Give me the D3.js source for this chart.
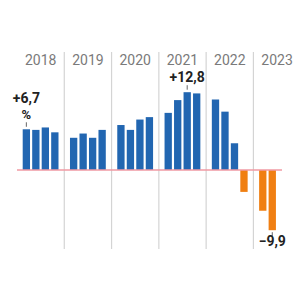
<!DOCTYPE html>
<html>
<head>
<meta charset="utf-8">
<script src="https://cdn.jsdelivr.net/npm/d3@7"></script>
<style>
  html, body { margin:0; padding:0; background:#fff; }
  svg { display:block; }
  text { font-family: "Liberation Sans Narrow", "Roboto", sans-serif; }
</style>
</head>
<body>
<div id="chart"></div>
<script>
var years = ["2018","2019","2020","2021","2022","2023"];
var quarters = ["Q1","Q2","Q3","Q4"];
var values = [
  [6.7, 6.6, 7.0, 6.2],
  [5.3, 6.0, 5.3, 6.6],
  [7.4, 6.6, 8.3, 8.7],
  [9.4, 11.5, 12.8, 12.6],
  [11.6, 9.6, 4.4, -3.6],
  [-6.7, -9.9]
];
var callouts = [
  {year:"2018", q:"Q1", text:"+6,7", unit:"%"},
  {year:"2021", q:"Q3", text:"+12,8"},
  {year:"2023", q:"Q2", text:"\u22129,9"}
];

var W = 300, H = 300;
var data = [];
years.forEach(function(y,i){
  values[i].forEach(function(v,j){ data.push({year:y, q:quarters[j], v:v}); });
});

var svg = d3.select("#chart").append("svg").attr("width",W).attr("height",H);

var X = d3.scaleBand().domain(years).range([17, 300.7]);
var Q = d3.scaleBand().domain(quarters).range([5.7, 41.5]).paddingInner(0.23);
var Y = d3.scaleLinear().domain([-9.9, 12.8]).range([230.2, 92.2]);

// year dividers
svg.selectAll(".div").data(years.slice(1)).enter().append("line")
  .attr("x1",function(d){return X(d)}).attr("x2",function(d){return X(d)})
  .attr("y1",52).attr("y2",249)
  .style("stroke","#d4d4d4").style("stroke-width",1.2);

// year labels
svg.selectAll(".yl").data(years).enter().append("text")
  .attr("x",function(d){return X(d)+X.bandwidth()/2})
  .attr("y",65)
  .attr("text-anchor","middle")
  .style("font-size","14px").style("fill","#7a7a7a")
  .text(function(d){return d});

// bars
svg.selectAll(".bar").data(data).enter().append("rect")
  .attr("x",function(d){return X(d.year)+Q(d.q)})
  .attr("width",Q.bandwidth())
  .attr("y",function(d){return Y(Math.max(0,d.v))})
  .attr("height",function(d){return Math.abs(Y(d.v)-Y(0))})
  .style("fill",function(d){return d.v<0 ? "#f07f12" : "#2266b1"});

// zero line
svg.append("line").attr("x1",17).attr("x2",282)
  .attr("y1",Y(0)).attr("y2",Y(0))
  .style("stroke","#f09aa3").style("stroke-width",1.5);

// callouts
callouts.forEach(function(c){
  var d = data.filter(function(e){return e.year==c.year && e.q==c.q})[0];
  var cx = X(c.year)+Q(c.q)+Q.bandwidth()/2;
  var neg = d.v<0;
  var yb = Y(d.v);
  var t0 = neg ? yb+2 : yb-7, t1 = neg ? yb+6.5 : yb-2.5;
  svg.append("line").attr("x1",cx).attr("x2",cx).attr("y1",t0).attr("y2",t1)
    .style("stroke","#666").style("stroke-width",1);
  var g = svg.append("text").attr("text-anchor","middle")
    .style("font-size","14px").style("font-weight","bold").style("fill","#222");
  if (neg) {
    g.attr("x",cx).attr("y",yb+15.5).text(c.text);
  } else if (c.unit) {
    g.attr("x",cx).attr("y",yb-26).text(c.text);
    svg.append("text").attr("x",cx).attr("y",yb-10).attr("text-anchor","middle")
      .style("font-size","13px").style("font-weight","bold").style("fill","#222")
      .text(c.unit);
  } else {
    g.attr("x",cx).attr("y",yb-10.5).text(c.text);
  }
});
</script>
</body>
</html>
